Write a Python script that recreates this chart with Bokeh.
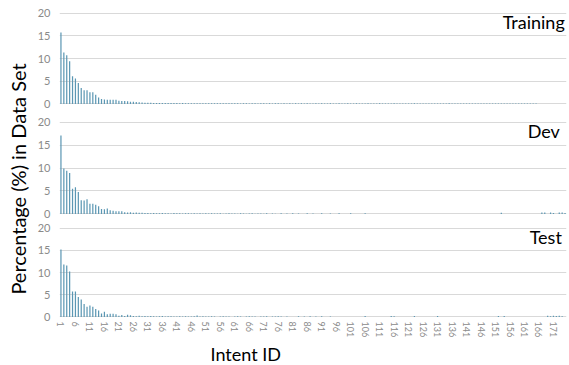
from bokeh.plotting import figure
from bokeh.models import Range1d, FixedTicker, Label, Title
from bokeh.layouts import row, column
from bokeh.embed import file_html
from bokeh.resources import INLINE

# ---------------- data ----------------
intent_ids = list(range(1, 176))

training = [
    15.7, 11.3, 10.7, 9.4, 6.1, 5.6, 4.6, 3.5, 3.0, 3.0,
    2.6, 2.6, 2.0, 1.4, 1.1, 1.0, 0.9, 0.9, 0.9, 0.9,
    0.7, 0.65, 0.65, 0.6, 0.5, 0.5, 0.45, 0.4, 0.3, 0.25,
    0.25, 0.25, 0.2, 0.2, 0.2, 0.2, 0.2, 0.2, 0.2, 0.2,
    0.2, 0.15, 0.2, 0.15, 0.15, 0.15, 0.15, 0.15, 0.15, 0.15,
    0.15, 0.15, 0.15, 0.15, 0.15, 0.15, 0.15, 0.15, 0.15, 0.15,
    0.15, 0.15, 0.1, 0.15, 0.15, 0.1, 0.15, 0.15, 0.1, 0.15,
    0.15, 0.1, 0.15, 0.1, 0.15, 0.15, 0.1, 0.15, 0.1, 0.15,
    0.1, 0.15, 0.1, 0.15, 0.1, 0.15, 0.1, 0.1, 0.15, 0.1,
    0.15, 0.1, 0.1, 0.15, 0.1, 0.1, 0.15, 0.1, 0.1, 0.15,
    0.1, 0.1, 0.15, 0.1, 0.1, 0.1, 0.15, 0.1, 0.1, 0.1,
    0.15, 0.1, 0.1, 0.1, 0.1, 0.15, 0.1, 0.1, 0.1, 0.1,
    0.1, 0.1, 0.15, 0.1, 0.1, 0.1, 0.1, 0.1, 0.1, 0.1,
    0.1, 0.1, 0.1, 0.1, 0.15, 0.1, 0.1, 0.1, 0.1, 0.1,
    0.1, 0.1, 0.1, 0.1, 0.1, 0.1, 0.1, 0.1, 0.1, 0.1,
    0.1, 0.1, 0.1, 0.1, 0.1, 0.1, 0.1, 0.1, 0.1, 0.1,
    0.1, 0.1, 0.1, 0.1, 0.1, 0, 0, 0, 0, 0,
    0, 0, 0, 0, 0,
]

dev = [
    17.1, 9.9, 9.4, 8.9, 5.5, 5.8, 4.8, 3.0, 2.9, 3.2,
    2.2, 2.2, 2.0, 1.7, 1.1, 1.0, 1.2, 0.8, 0.7, 0.6,
    0.6, 0.6, 0.35, 0.3, 0.35, 0.25, 0.3, 0.25, 0.25, 0.2,
    0.2, 0.15, 0.2, 0.15, 0.15, 0.2, 0.15, 0.15, 0.1, 0.2,
    0.15, 0.15, 0.1, 0.15, 0.15, 0.1, 0.15, 0.1, 0.15, 0.1,
    0.15, 0.1, 0.15, 0.1, 0.1, 0.15, 0.05, 0.1, 0.15, 0.1,
    0.1, 0.05, 0.15, 0.1, 0.05, 0.1, 0.15, 0.05, 0.1, 0.1,
    0.05, 0.15, 0, 0.1, 0.05, 0, 0.15, 0, 0.1, 0,
    0.15, 0, 0.1, 0, 0, 0.15, 0, 0.1, 0, 0,
    0.15, 0, 0, 0.1, 0, 0, 0.15, 0, 0, 0,
    0.15, 0, 0, 0, 0, 0.15, 0, 0, 0, 0,
    0, 0, 0, 0, 0, 0, 0, 0, 0, 0,
    0, 0, 0, 0, 0, 0, 0, 0, 0, 0,
    0, 0, 0, 0, 0, 0, 0, 0, 0, 0,
    0, 0, 0, 0, 0, 0, 0, 0, 0, 0,
    0, 0, 0.25, 0, 0, 0, 0, 0, 0, 0,
    0, 0, 0, 0, 0, 0, 0.3, 0.3, 0, 0.3,
    0.2, 0, 0.3, 0.3, 0.2,
]

test = [
    15.2, 11.8, 11.6, 10.2, 5.7, 5.7, 4.5, 3.9, 2.9, 2.3,
    2.6, 2.3, 1.8, 1.45, 0.8, 1.2, 0.6, 0.75, 0.75, 0.6,
    0.3, 0.45, 0.2, 0.5, 0.4, 0.2, 0.15, 0.3, 0.15, 0.2,
    0.15, 0.2, 0.15, 0.1, 0.15, 0.2, 0.1, 0.15, 0.15, 0.1,
    0.1, 0.15, 0.1, 0.15, 0.1, 0.1, 0.15, 0.35, 0.1, 0.15,
    0.1, 0.1, 0.15, 0.1, 0, 0.1, 0.15, 0.1, 0.1, 0,
    0.1, 0.15, 0.1, 0, 0.1, 0.15, 0.1, 0.1, 0, 0.1,
    0.1, 0.15, 0, 0.1, 0.1, 0.15, 0.1, 0, 0.1, 0,
    0, 0, 0.15, 0, 0.1, 0, 0.15, 0, 0.1, 0,
    0.15, 0, 0, 0.1, 0, 0, 0, 0, 0, 0,
    0, 0, 0, 0, 0, 0.2, 0, 0, 0, 0,
    0, 0, 0, 0, 0.2, 0.15, 0, 0, 0, 0,
    0, 0, 0.2, 0, 0, 0, 0, 0, 0, 0,
    0.2, 0, 0, 0, 0, 0, 0, 0, 0, 0,
    0, 0, 0, 0, 0, 0, 0, 0, 0, 0,
    0, 0.2, 0, 0.2, 0, 0, 0, 0, 0, 0,
    0, 0, 0, 0, 0, 0, 0, 0, 0.25, 0.15,
    0.25, 0.2, 0.25, 0.15, 0,
]

panel_names = ["Training", "Dev", "Test"]
y_ticks = [0, 5, 10, 15, 20]
x_ticks = [1, 6, 11, 16, 21, 26, 31, 36, 41, 46, 51, 56, 61, 66, 71, 76, 81,
           86, 91, 96, 101, 106, 111, 116, 121, 126, 131, 136, 141, 146, 151,
           156, 161, 166, 171]
y_title = "Percentage (%) in Data Set"
x_title = "Intent ID"

# ---------------- style ----------------
FONT = "Lato"
BAR = "#5b97b3"
GRID = "#d9d9d9"
TICK_COLOR = "#8a8a8a"

LEFT_W = 31
PANEL_W = 537
TOTAL_H = 364

# per panel: canvas height, border top, border bottom, name label position
panel_layout = [
    dict(height=113, top=12, bottom=9, nx=174.9, ny=18.1),
    dict(height=107, top=8, bottom=6, nx=173.2, ny=18.1),
    dict(height=144, top=7, bottom=0, nx=173.9, ny=18.0),
]

x_range = Range1d(0.5, 175.5)


def make_panel(values, name, lay, show_x):
    p = figure(width=PANEL_W, height=lay["height"], output_backend="svg",
               toolbar_location=None, x_range=x_range,
               y_range=Range1d(-0.12, 20.12),
               min_border_left=28, min_border_right=2,
               min_border_top=lay["top"], min_border_bottom=lay["bottom"])
    p.outline_line_color = None
    p.vbar(x=intent_ids, top=values, width=0.42, color=BAR, line_color=None)

    p.yaxis.ticker = FixedTicker(ticks=y_ticks)
    p.yaxis.axis_line_color = None
    p.yaxis.major_tick_line_color = None
    p.yaxis.minor_tick_line_color = None
    p.yaxis.major_tick_out = 0
    p.yaxis.major_tick_in = 0
    p.yaxis.minor_tick_out = 0
    p.yaxis.major_label_standoff = 9
    p.yaxis.major_label_text_font = FONT
    p.yaxis.major_label_text_font_size = "11px"
    p.yaxis.major_label_text_color = TICK_COLOR

    p.xgrid.visible = False
    p.ygrid.grid_line_color = GRID
    p.ygrid.grid_line_width = 1

    if show_x:
        p.xaxis.ticker = FixedTicker(ticks=x_ticks)
        p.xaxis.axis_line_color = None
        p.xaxis.major_tick_line_color = None
        p.xaxis.minor_tick_line_color = None
        p.xaxis.major_tick_out = 0
        p.xaxis.major_tick_in = 0
        p.xaxis.minor_tick_out = 0
        p.xaxis.axis_label_standoff = 0
        p.xaxis.major_label_orientation = "vertical"
        p.xaxis.major_label_standoff = 4
        p.xaxis.major_label_text_font = FONT
        p.xaxis.major_label_text_font_size = "9px"
        p.xaxis.major_label_text_color = TICK_COLOR
        p.add_layout(Title(text=x_title, align="left", offset=151, standoff=0,
                           text_font=FONT, text_font_size="18px",
                           text_font_style="normal", text_color="#000000"),
                     "below")
    else:
        p.xaxis.visible = False

    p.add_layout(Label(x=lay["nx"], y=lay["ny"], text=name,
                       text_align="right", text_baseline="alphabetic",
                       text_font=FONT, text_font_size="18px",
                       text_color="#000000"))
    return p


panels = [make_panel(v, n, lay, i == 2)
          for i, (v, n, lay) in enumerate(zip([training, dev, test],
                                                panel_names, panel_layout))]

# left strip carrying the shared y-axis title
t = figure(width=LEFT_W, height=TOTAL_H, output_backend="svg",
           toolbar_location=None, x_range=Range1d(0, LEFT_W),
           y_range=Range1d(0, TOTAL_H), min_border=0)
t.axis.visible = False
t.grid.visible = False
t.outline_line_color = None
t.add_layout(Label(x=17.5, y=185.5, text=y_title, angle=90, angle_units="deg",
                   text_align="center", text_baseline="middle",
                   text_font=FONT, text_font_size="20px",
                   text_color="#000000"))

layout = row(t, column(*panels, spacing=0), spacing=0)

open("out.html", "w").write(file_html(layout, INLINE))
